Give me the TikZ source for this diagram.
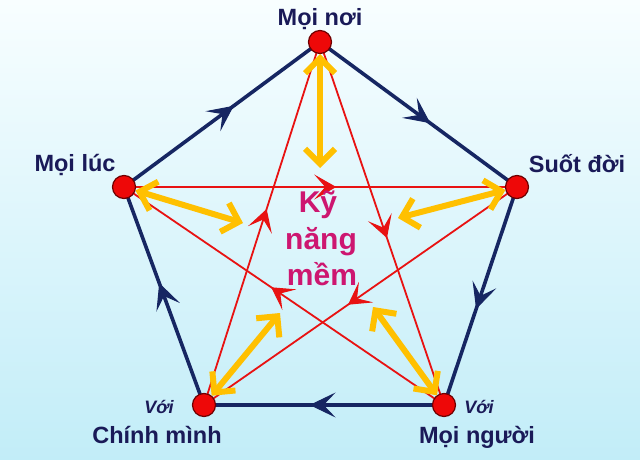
\documentclass[tikz,border=0pt]{standalone}
\usepackage{fontspec}
\setmainfont{Liberation Sans}
\usetikzlibrary{arrows.meta,decorations.markings}
\definecolor{navy}{RGB}{22,38,98}
\definecolor{starred}{RGB}{232,18,18}
\definecolor{ygold}{RGB}{255,192,0}
\definecolor{labelblue}{RGB}{26,26,88}
\definecolor{kncol}{RGB}{205,22,112}
\definecolor{bgtop}{RGB}{248,254,255}
\definecolor{bgbot}{RGB}{194,237,248}
\definecolor{dotred}{RGB}{238,8,8}
\definecolor{dotrim}{RGB}{110,0,0}
\begin{document}
\begin{tikzpicture}[x=1pt,y=-1pt,
  rim/.style={draw=navy,line width=3.6pt,postaction={decorate},
    decoration={markings,mark=at position 0.56 with {\arrow[navy,line width=1pt]{Stealth[length=26pt,width=25pt,inset=12pt]}}}},
  starline/.style={draw=starred,line width=1.8pt,postaction={decorate},
    decoration={markings,mark=at position 0.54 with {\arrow[starred,line width=1pt]{Stealth[length=22pt,width=25pt,inset=11pt]}}}},
  goldarrow/.style={draw=ygold,line width=6pt,shorten <=12pt,
    {Straight Barb[length=15pt,width=30pt]}-{Straight Barb[length=15pt,width=30pt]}},
  vertex/.style={circle,fill=dotred,draw=dotrim,line width=1.2pt,minimum size=23pt,inner sep=0pt},
  lbl/.style={anchor=base,text=labelblue,font=\fontsize{23.5}{27}\selectfont\bfseries},
  withlbl/.style={anchor=base,text=labelblue,font=\fontsize{18}{22}\selectfont\bfseries\itshape},
  kn/.style={anchor=base,text=kncol,font=\fontsize{30}{34}\selectfont\bfseries}
]
\fill[top color=bgtop,bottom color=bgbot] (0,0) rectangle (640,460);
\useasboundingbox (0,0) rectangle (640,460);

% vertex positions
\coordinate (T) at (320,42);
\coordinate (L) at (124,187);
\coordinate (R) at (517,187);
\coordinate (BL) at (204,405);
\coordinate (BR) at (444,405);

% target points of the gold arrows
\coordinate (yT) at (320,168);
\coordinate (yL) at (243,223);
\coordinate (yR) at (398,218);
\coordinate (yBL) at (280,313);
\coordinate (yBR) at (373,307);

% star
\draw[starline] (L) -- (R);
\draw[starline] (R) -- (BL);
\draw[starline] (BL) -- (T);
\draw[starline] (T) -- (BR);
\draw[starline] (BR) -- (L);

% pentagon
\draw[rim] (L) -- (T);
\draw[rim] (T) -- (R);
\draw[rim] (R) -- (BR);
\draw[rim] (BR) -- (BL);
\draw[rim] (BL) -- (L);

% gold arrows
\draw[goldarrow] (T) -- (yT);
\draw[goldarrow] (L) -- (yL);
\draw[goldarrow] (R) -- (yR);
\draw[goldarrow] (BL) -- (yBL);
\draw[goldarrow] (BR) -- (yBR);

% dots
\node[vertex] (vT) at (T) {};
\node[vertex] (vL) at (L) {};
\node[vertex] (vR) at (R) {};
\node[vertex] (vBL) at (BL) {};
\node[vertex] (vBR) at (BR) {};

% labels
\node[lbl] (tT) at (320,26) {Mọi nơi};
\node[lbl] (tL) at (75,171) {Mọi lúc};
\node[lbl] (tR) at (577,172) {Suốt đời};
\node[lbl] (tBL) at (157,443) {Chính mình};
\node[lbl] (tBR) at (477,443) {Mọi người};
\node[withlbl] (wBL) at (159,413) {Với};
\node[withlbl] (wBR) at (479,413) {Với};

% centre text
\node[kn] (k1) at (318,212) {Kỹ};
\node[kn] (k2) at (321,249) {năng};
\node[kn] (k3) at (322,285) {mềm};
\end{tikzpicture}
\end{document}
